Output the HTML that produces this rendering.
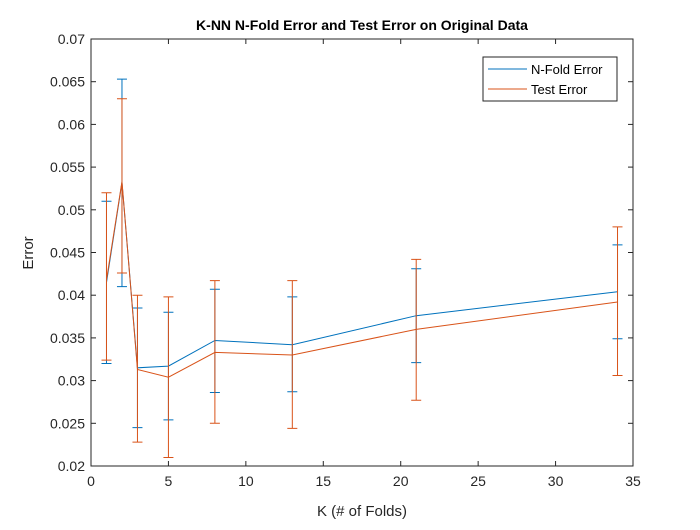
<!DOCTYPE html>
<html><head><meta charset="utf-8"><style>
body{margin:0;background:#fff;font-family:"Liberation Sans",Arial,sans-serif}
svg text{font-family:"Liberation Sans",Arial,sans-serif}
</style></head><body>
<svg id="chart" width="700" height="525">
<rect width="700" height="525" fill="#fff"/>
<g id="plot"></g>
</svg>
<script>
const kValues=[1,2,3,5,8,13,21,34];
const nfoldErr=[0.0415,0.0532,0.0315,0.0317,0.0347,0.0342,0.0376,0.0404];
const nfoldLow=[0.0320,0.0410,0.0245,0.0254,0.0286,0.0287,0.0321,0.0349];
const nfoldHigh=[0.0510,0.0653,0.0385,0.0380,0.0407,0.0398,0.0431,0.0459];
const testErr=[0.0418,0.0533,0.0313,0.0304,0.0333,0.0330,0.0360,0.0392];
const testLow=[0.0324,0.0426,0.0228,0.0210,0.0250,0.0244,0.0277,0.0306];
const testHigh=[0.0520,0.0630,0.0400,0.0398,0.0417,0.0417,0.0442,0.0480];
const xTicks=[0,5,10,15,20,25,30,35];
const yTicks=[0.02,0.025,0.03,0.035,0.04,0.045,0.05,0.055,0.06,0.065,0.07];
const yTickLabels=["0.02","0.025","0.03","0.035","0.04","0.045","0.05","0.055","0.06","0.065","0.07"];
const L=91,R=633,T=39,B=466;
const xs=v=>L+(v-0)/(35-0)*(R-L);
const ys=v=>B-(v-0.02)/(0.07-0.02)*(B-T);
const g=document.getElementById('plot');
const NS='http://www.w3.org/2000/svg';
function mk(tag,attrs,parent){const e=document.createElementNS(NS,tag);for(const k in attrs)e.setAttribute(k,attrs[k]);(parent||g).appendChild(e);return e;}
let e=mk('rect',{x:L,y:T,width:R-L,height:B-T,fill:'#fff',stroke:'#262626','stroke-width':1});


xTicks.forEach(t=>{const x=xs(t);
 mk('line',{x1:x,x2:x,y1:B,y2:B-5,stroke:'#262626'});mk('line',{x1:x,x2:x,y1:T,y2:T+5,stroke:'#262626'});
 const tx=mk('text',{x:x,y:B+20,'text-anchor':'middle','font-size':14,fill:'#262626'});tx.textContent=t;
 
 });
yTicks.forEach((t,i)=>{const y=ys(t);
 mk('line',{x1:L,x2:L+5,y1:y,y2:y,stroke:'#262626'});mk('line',{x1:R,x2:R-5,y1:y,y2:y,stroke:'#262626'});
 const tx=mk('text',{x:L-6,y:y+5,'text-anchor':'end','font-size':14,fill:'#262626'});tx.textContent=yTickLabels[i];
 
 });
function series(vals,lo,hi,col,name){
 const pl=mk('polyline',{points:kValues.map((k,i)=>xs(k)+','+ys(vals[i])).join(' '),fill:'none',stroke:col,'stroke-width':1});
 
 
 kValues.forEach((k,i)=>{const x=xs(k);
  const eb=mk('path',{d:`M${x},${ys(lo[i])}V${ys(hi[i])}M${x-5},${ys(lo[i])}H${x+5}M${x-5},${ys(hi[i])}H${x+5}`,stroke:col,fill:'none','stroke-width':1});
  
  });
}
series(nfoldErr,nfoldLow,nfoldHigh,'#0072BD','nfold');
series(testErr,testLow,testHigh,'#D95319','test');
let t=mk('text',{x:362,y:30,'text-anchor':'middle','font-size':14,'font-weight':'bold',fill:'#000'});t.textContent='K-NN N-Fold Error and Test Error on Original Data';

t=mk('text',{x:362,y:516,'text-anchor':'middle','font-size':15,fill:'#262626'});t.textContent='K (# of Folds)';

t=mk('text',{x:33,y:253,'text-anchor':'middle','font-size':15,fill:'#262626',transform:'rotate(-90 33 253)'});t.textContent='Error';

const lg=mk('g',{});

mk('rect',{x:483,y:57,width:134,height:44,fill:'#fff',stroke:'#262626','stroke-width':1},lg);
mk('line',{x1:488,x2:527,y1:69,y2:69,stroke:'#0072BD'},lg);
mk('line',{x1:488,x2:527,y1:89,y2:89,stroke:'#D95319'},lg);
t=mk('text',{x:531,y:74,'font-size':13,fill:'#000'},lg);t.textContent='N-Fold Error';

t=mk('text',{x:531,y:94,'font-size':13,fill:'#000'},lg);t.textContent='Test Error';

</script>
</body></html>
